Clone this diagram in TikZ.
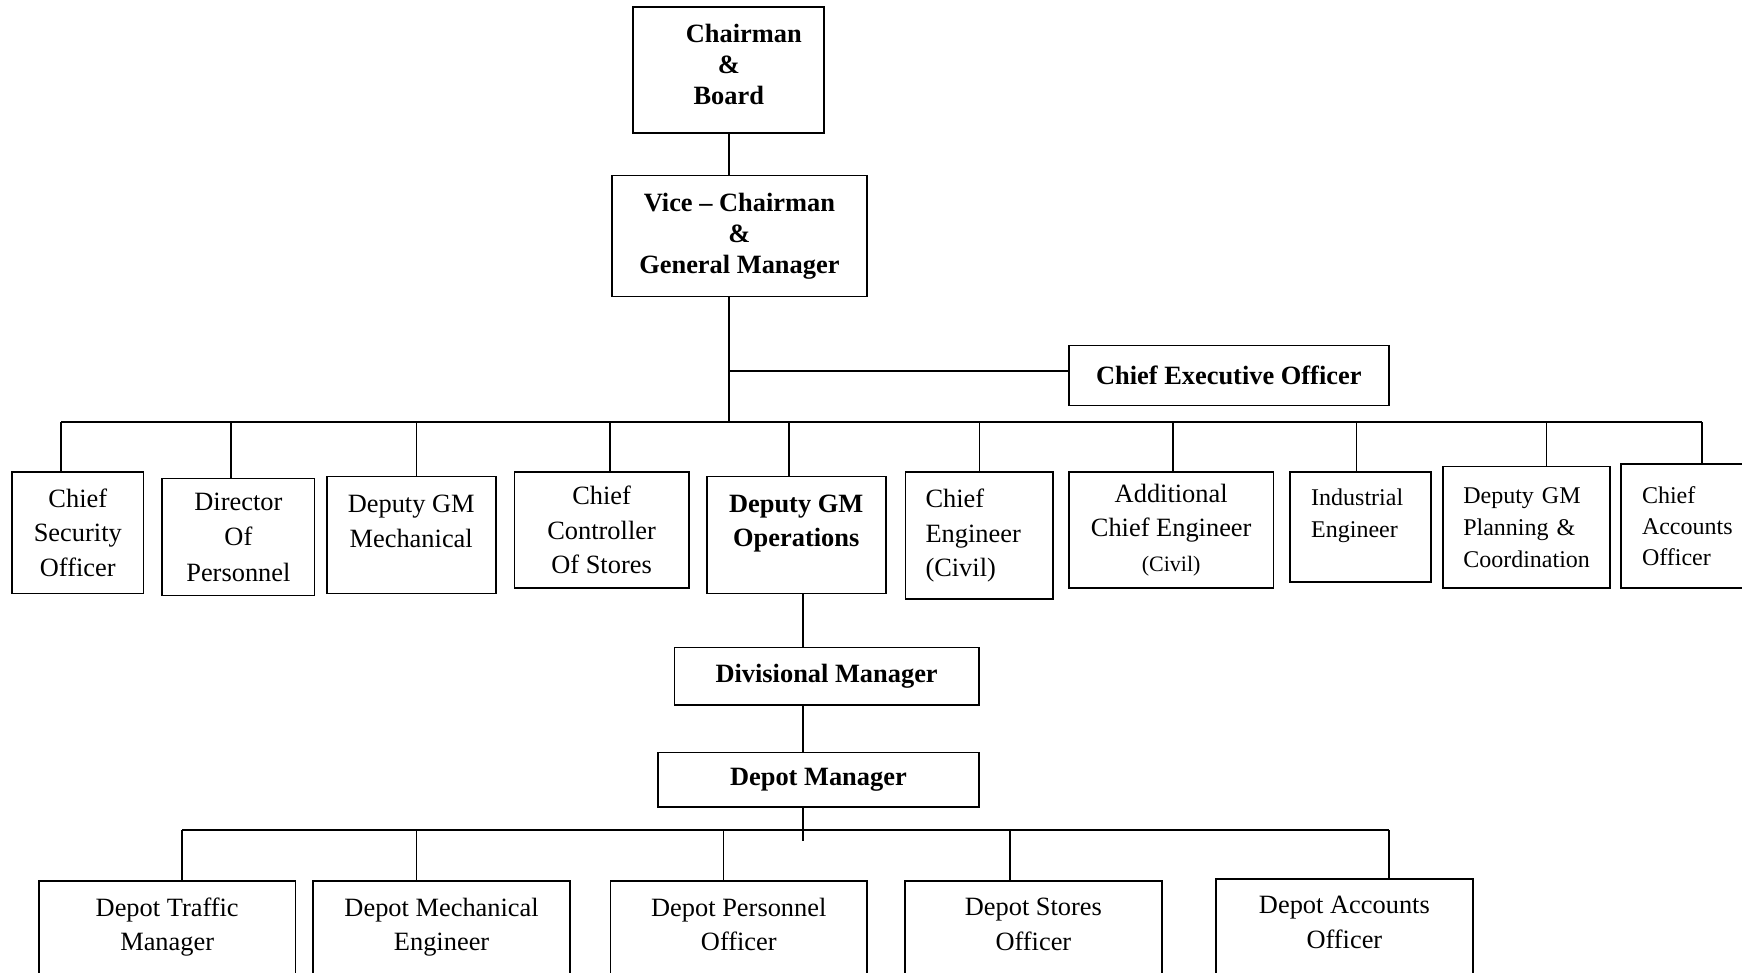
\documentclass[tikz,border=0pt]{standalone}
\usepackage{fontspec}
\setmainfont{Liberation Serif}
\usetikzlibrary{positioning}

\begin{document}
\begin{tikzpicture}[
  x=1pt, y=-1pt,
  box/.style={draw, line width=0.9pt, align=center, inner sep=0pt,
              font=\fontsize{13.2}{17.2}\selectfont},
  head/.style={box, font=\bfseries\fontsize{13.2}{15.6}\selectfont},
  lbox/.style={box, align=left, text width=#1},
  small/.style={font=\fontsize{12}{16}\selectfont},
  depot/.style={box, anchor=north, minimum width=128.3pt, minimum height=82.8pt},
  link/.style={line width=0.75pt},
  bus/.style={line width=1.1pt}
]
  \useasboundingbox (0,0) rectangle (871,486.5);
  \clip (0,0) rectangle (871,486.5);

  %% Board level
  \node[head, minimum width=95.5pt, minimum height=63.3pt] (chair) at (364.4,35) {\hspace*{15pt}Chairman\\\&\\Board\\[-10pt]\mbox{}};
  \node[head, minimum width=127.2pt, minimum height=60.5pt] (vc) at (369.7,118) {Vice -- Chairman\\\&\\General Manager};
  \node[head, minimum width=160pt, minimum height=30pt] (ceo) at (614.4,187.8) {Chief Executive Officer};

  %% Heads of department
  \node[box, minimum width=65.6pt, minimum height=60.6pt] (cso) at (38.9,266.4) {Chief\\Security\\Officer};
  \node[box, font=\fontsize{13.2}{17.8}\selectfont, minimum width=76.1pt, minimum height=58.4pt] (dop) at (119.2,268.5) {Director\\Of\\Personnel};
  \node[box, minimum width=84.5pt, minimum height=58.4pt] (dgmm) at (205.6,267.5) {Deputy GM\\Mechanical\\[-3.4pt]\mbox{}};
  \node[box, minimum width=87.2pt, minimum height=57.8pt] (ccs) at (300.8,265) {Chief\\Controller\\Of Stores};
  \node[head, font=\bfseries\fontsize{13.2}{17.2}\selectfont, minimum width=89.5pt, minimum height=58.4pt] (dgmo) at (398.1,267.5) {Deputy GM\\Operations\\[-3pt]\mbox{}};
  \node[lbox=53.9pt, minimum width=73.9pt, minimum height=63.3pt] (cec) at (489.7,267.8) {Chief\\Engineer\\(Civil)};
  \node[box, minimum width=102.3pt, minimum height=57.8pt] (acec) at (585.6,265) {Additional\\Chief Engineer\\{\fontsize{11}{15}\selectfont(Civil)}};
  \node[lbox=49.4pt, small, minimum width=70.6pt, minimum height=55pt] (ie) at (680.3,263.6) {Industrial\\Engineer\\[-2pt]\mbox{}};
  \node[lbox=63.3pt, small, minimum width=83.3pt, minimum height=60.6pt] (dgmp) at (763.3,263.6) {Deputy GM\\Planning \&\\Coordination};
  \node[lbox=48.6pt, font=\fontsize{12}{15.4}\selectfont, minimum width=69.4pt, minimum height=61.7pt] (cao) at (845.3,263) {Chief\\Accounts\\Officer};

  %% Operations line
  \node[head, minimum width=152.2pt, minimum height=28.9pt, below=26.1pt of dgmo, xshift=15.2pt] (div) {Divisional Manager};
  \node[head, minimum width=160.5pt, minimum height=27.2pt, below=22.7pt of div, xshift=-4.1pt] (dm) {Depot Manager};

  %% Depot officers
  \node[depot] (dtm) at (83.6,440) {Depot Traffic\\Manager\\\strut\\\strut};
  \node[depot] (dme) at (220.8,440) {Depot Mechanical\\Engineer\\\strut\\\strut};
  \node[depot] (dpo) at (369.4,440) {Depot Personnel\\Officer\\\strut\\\strut};
  \node[depot] (dso) at (516.7,440) {Depot Stores\\Officer\\\strut\\\strut};
  \node[depot] (dao) at (672.2,439) {Depot Accounts\\Officer\\\strut\\\strut};

  %% Upper connectors
  \coordinate (busL) at (30.6,211.1);
  \coordinate (busR) at (851,211.1);
  \draw[link] (chair.south) -- (chair.south |- vc.north);
  \draw[link] (chair.south |- vc.south) -- (chair.south |- busL);
  \draw[link] ([yshift=2.3pt]ceo.west) -- ([yshift=2.3pt]ceo.west -| chair.south);
  \draw[bus] (busL) -- (busR);
  \foreach \n/\dx in {cso/-8.3, dop/-3.6, dgmm/2.7, ccs/4.2, dgmo/-3.7, cec/0, acec/1, ie/-2, dgmp/10, cao/5.7}
    \draw[link] ([xshift=\dx pt]\n.north) -- ([xshift=\dx pt]\n.north |- busL);

  %% Lower connectors
  \coordinate (spine) at ([xshift=3.5pt]dgmo.south);
  \coordinate (stub) at (401.6,420.6);
  \coordinate (dbusL) at (91.1,415);
  \coordinate (dbusR) at (694.4,415);
  \draw[link] (spine) -- (spine |- div.north);
  \draw[link] (spine |- div.south) -- (spine |- dm.north);
  \draw[link] (spine |- dm.south) -- (spine |- stub);
  \draw[bus] (dbusL) -- (dbusR);
  \foreach \n/\dx in {dtm/7.5, dme/-12.5, dpo/-7.7, dso/-11.7, dao/22.2}
    \draw[link] ([xshift=\dx pt]\n.north) -- ([xshift=\dx pt]\n.north |- dbusL);
\end{tikzpicture}
\end{document}
